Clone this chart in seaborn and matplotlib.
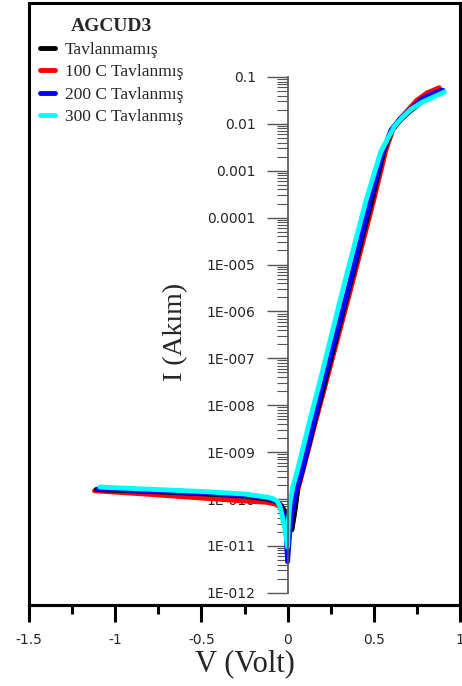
import numpy as np
import pandas as pd
import seaborn as sns
import matplotlib.pyplot as plt
from matplotlib.ticker import FixedLocator, FixedFormatter, MultipleLocator

# seri isimleri ve renkleri
series_names = ['Tavlanmamış', '100 C Tavlanmış', '200 C Tavlanmış', '300 C Tavlanmış']
series_colors = ['#000000', '#ff0000', '#0000ff', '#00ffff']
legend_title = 'AGCUD3'

# V (Volt) ve I (Akım) değerleri
v_black = [-1.11, -0.80, -0.50, -0.25, -0.12, -0.07, -0.04, -0.02, -0.005, 0.01, 0.025, 0.04,
           0.06, 0.087, 0.16, 0.22, 0.355, 0.49, 0.56, 0.605, 0.66, 0.71, 0.79, 0.89]
i_black = [1.6e-10, 1.45e-10, 1.3e-10, 1.15e-10, 1.0e-10, 9.0e-11, 7.5e-11, 5.8e-11, 4.2e-11,
           3.0e-11, 2.2e-11, 5.0e-11, 1.8e-10, 4.2e-10, 4.9e-9, 3.5e-8, 2.9e-6, 2.4e-4,
           2.75e-3, 7.4e-3, 1.26e-2, 1.86e-2, 3.2e-2, 5.1e-2]

v_red = [-1.12, -0.80, -0.50, -0.25, -0.12, -0.07, -0.04, -0.02, -0.005, 0.01, 0.025, 0.04,
         0.06, 0.09, 0.165, 0.227, 0.365, 0.50, 0.57, 0.61, 0.65, 0.70, 0.75, 0.81, 0.88]
i_red = [1.5e-10, 1.26e-10, 1.05e-10, 9.1e-11, 8.5e-11, 7.8e-11, 6.6e-11, 5.2e-11, 3.8e-11,
         2.8e-11, 2.5e-11, 5.0e-11, 1.6e-10, 4.2e-10, 4.9e-9, 3.5e-8, 2.9e-6, 2.4e-4, 2.75e-3,
         7.4e-3, 1.26e-2, 2.0e-2, 3.2e-2, 4.6e-2, 5.9e-2]

v_blue = [-1.10, -0.80, -0.50, -0.25, -0.12, -0.07, -0.045, -0.03, -0.018, -0.008, 0.0, 0.01,
          0.02, 0.05, 0.085, 0.155, 0.21, 0.35, 0.48, 0.555, 0.60, 0.65, 0.70, 0.78, 0.84, 0.90]
i_blue = [1.65e-10, 1.5e-10, 1.35e-10, 1.2e-10, 1.05e-10, 9.2e-11, 7.5e-11, 5.5e-11, 3.5e-11,
          1.8e-11, 4.6e-12, 1.5e-11, 3.5e-11, 1.6e-10, 4.2e-10, 4.9e-9, 3.5e-8, 2.9e-6, 2.4e-4,
          2.75e-3, 7.4e-3, 1.26e-2, 1.86e-2, 3.4e-2, 4.4e-2, 5.25e-2]

v_cyan = [-1.09, -0.80, -0.50, -0.25, -0.12, -0.085, -0.06, -0.045, -0.03, -0.018, -0.008,
          0.0, 0.005, 0.015, 0.03, 0.058, 0.13, 0.19, 0.32, 0.456, 0.54, 0.59, 0.62, 0.667,
          0.72, 0.78, 0.85, 0.91]
i_cyan = [1.8e-10, 1.62e-10, 1.45e-10, 1.28e-10, 1.1e-10, 1.02e-10, 9.0e-11, 7.0e-11, 4.2e-11,
          2.5e-11, 1.5e-11, 9.5e-12, 3.5e-11, 9.0e-11, 1.8e-10, 4.2e-10, 4.9e-9, 3.5e-8, 2.9e-6,
          2.4e-4, 2.5e-3, 5.6e-3, 8.9e-3, 1.4e-2, 2.1e-2, 2.9e-2, 3.8e-2, 4.8e-2]

# eksen etiketleri
xtick_vals = [-1.5, -1, -0.5, 0, 0.5, 1]
xtick_labels = ['-1.5', '-1', '-0.5', '0', '0.5', '1']
ytick_vals = [1e-12, 1e-11, 1e-10, 1e-9, 1e-8, 1e-7, 1e-6, 1e-5, 1e-4, 1e-3, 1e-2, 1e-1]
ytick_labels = ['1E-012', '1E-011', '1E-010', '1E-009', '1E-008', '1E-007', '1E-006',
                '1E-005', '0.0001', '0.001', '0.01', '0.1']

# uzun formatta veri çerçevesi
frames = []
for name, v, i in zip(series_names, [v_black, v_red, v_blue, v_cyan],
                      [i_black, i_red, i_blue, i_cyan]):
    frames.append(pd.DataFrame({'V': v, 'I': i, 'seri': name}))
df = pd.concat(frames, ignore_index=True)

sns.set_style('white')
plt.rcParams['font.family'] = ['Liberation Serif', 'DejaVu Serif']

fig = plt.figure(figsize=(4.62, 6.86), dpi=100)
pos = [29 / 462, 81 / 686, 431 / 462, 602 / 686]

# dış çerçeve
frame = fig.add_axes(pos)
frame.set_xticks([])
frame.set_yticks([])
for s in frame.spines.values():
    s.set_visible(True)
    s.set_color('black')
    s.set_linewidth(2.2)

ax = fig.add_axes(pos)
ax.patch.set_alpha(0)
ax.set_yscale('log')

zorders = [2.1, 2.0, 2.2, 2.3]
for name, col, z in zip(series_names, series_colors, zorders):
    sub = df[df['seri'] == name]
    sns.lineplot(data=sub, x='V', y='I', color=col, lw=3.5, sort=False,
                 estimator=None, ax=ax, label=name, zorder=z,
                 solid_joinstyle='round', solid_capstyle='round')

ax.set_xlim(-1.5, 1.0)
ax.set_ylim(5.5e-13, 3.78)

# y ekseni x=0 noktasında
for side in ['top', 'right']:
    ax.spines[side].set_visible(False)
ax.spines['left'].set_position(('data', 0))
ax.spines['left'].set_bounds(1e-12, 0.1)
ax.spines['left'].set_color('#555555')
ax.spines['left'].set_linewidth(1.2)
ax.spines['bottom'].set_color('black')
ax.spines['bottom'].set_linewidth(2.2)

ax.yaxis.set_major_locator(FixedLocator(ytick_vals))
ax.yaxis.set_major_formatter(FixedFormatter(ytick_labels))
minor_y = [k * 10.0 ** e for e in range(-12, -1) for k in range(2, 10)]
ax.yaxis.set_minor_locator(FixedLocator(minor_y))
ax.tick_params(axis='y', which='both', left=True, right=False)
ax.tick_params(axis='y', which='major', direction='out', length=15, width=1,
               color='#555555', pad=8, labelsize=10, labelfontfamily='DejaVu Sans')
ax.tick_params(axis='y', which='minor', direction='out', length=8, width=0.8,
               color='#555555')

ax.xaxis.set_major_locator(FixedLocator(xtick_vals))
ax.xaxis.set_major_formatter(FixedFormatter(xtick_labels))
ax.xaxis.set_minor_locator(MultipleLocator(0.25))
ax.tick_params(axis='x', which='both', bottom=True, top=False)
ax.tick_params(axis='x', which='major', direction='out', length=12, width=2.2,
               color='black', pad=8, labelsize=10, labelfontfamily='DejaVu Sans')
ax.tick_params(axis='x', which='minor', direction='out', length=6.5, width=2.2,
               color='black')

ax.set_xlabel('V (Volt)', fontsize=22)
ax.xaxis.set_label_coords(0.5, -0.074)
ax.set_ylabel('I (Akım)', fontsize=20)
ax.yaxis.set_label_coords(0.369, 0.4535)

ax.legend(title=legend_title, loc='upper left', bbox_to_anchor=(0.0255, 0.975),
          frameon=False, fontsize=12.5, title_fontproperties={'weight': 'bold', 'size': 14},
          handlelength=0.86, handletextpad=0.57, labelspacing=0.37, borderpad=0,
          borderaxespad=0)

fig.savefig('out.png', dpi=100)
